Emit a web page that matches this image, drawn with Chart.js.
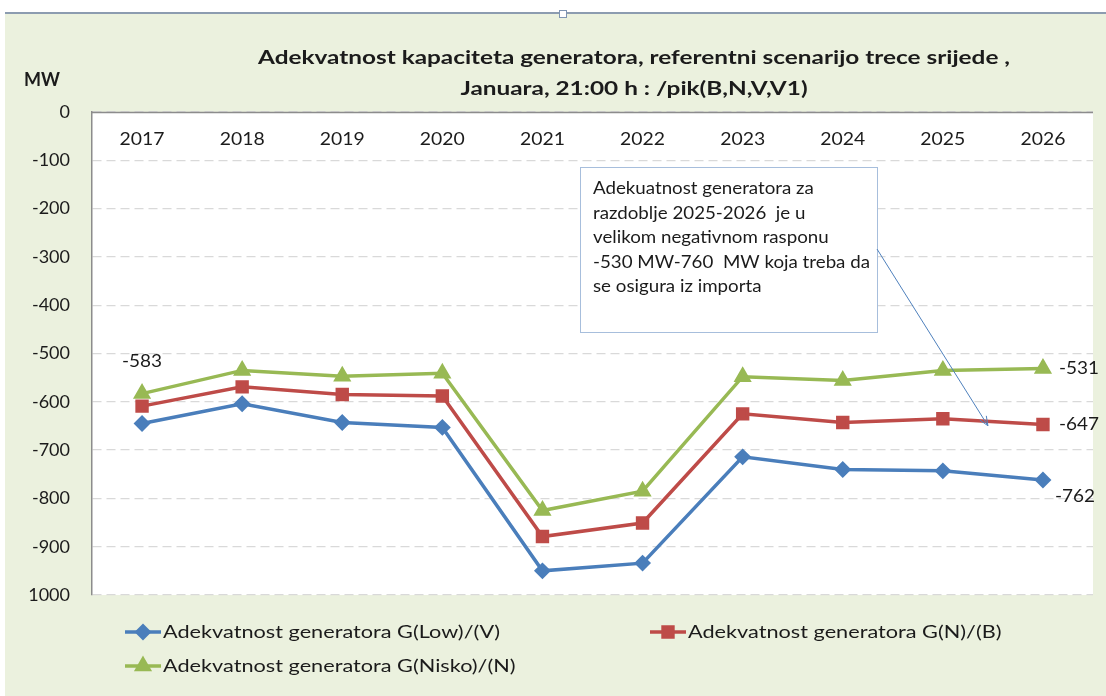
<!DOCTYPE html>
<html>
<head>
<meta charset="utf-8">
<script src="https://cdn.jsdelivr.net/npm/chart.js@4.4.1/dist/chart.umd.min.js"></script>
<style>
  html, body { margin: 0; padding: 0; background: #fff; }
  #wrap { width: 1106px; height: 696px; position: relative; }
</style>
</head>
<body>
<div id="wrap"><canvas id="adeqChart" width="1106" height="696"></canvas></div>
<script>
const years = ['2017', '2018', '2019', '2020', '2021', '2022', '2023', '2024', '2025', '2026'];
const lowV = [-645, -604, -643, -653, -950, -934, -714, -740, -743, -762];
const normalB = [-609, -569, -585, -588, -879, -851, -625, -643, -635, -647];
const niskoN = [-583, -535, -547, -541, -825, -785, -548, -556, -535, -531];
const yTickLabels = ['0', '-100', '-200', '-300', '-400', '-500', '-600', '-700', '-800', '-900', '1000'];

const seriesNames = [
    'Adekvatnost generatora G(Low)/(V)',
    'Adekvatnost generatora G(N)/(B)',
    'Adekvatnost generatora G(Nisko)/(N)'
];
const titleLines = [
    'Adekvatnost kapaciteta generatora, referentni scenarijo trece srijede ,',
    'Januara, 21:00 h : /pik(B,N,V,V1)'
];
const noteLines = [
    'Adekuatnost generatora za',
    'razdoblje 2025-2026  je u',
    'velikom negativnom rasponu',
    '-530 MW-760  MW koja treba da',
    'se osigura iz importa'
];

const FONT = 'Lato, "Open Sans", sans-serif';
const TEXT = '#1b1b1b';

// the source picture is stretched sideways, so text gets a horizontal scale
function wideText(c, txt, x, y, sx, align) {
    c.save();
    c.translate(x, y);
    c.scale(sx, 1);
    c.textAlign = align || 'left';
    c.fillText(txt, 0, 0);
    c.restore();
}
function stretchFor(c, sample, width) {
    return width / c.measureText(sample).width;
}

// background, title, x labels, value labels, note box and legend
const decor = {
    id: 'decor',
    beforeDraw(chart) {
        const c = chart.ctx;
        const a = chart.chartArea;
        c.save();
        c.fillStyle = '#ffffff';
        c.fillRect(0, 0, chart.width, chart.height);
        c.fillStyle = '#EBF1DE';
        c.fillRect(5, 13, chart.width - 5, chart.height - 13);
        c.strokeStyle = '#8C9CB0';
        c.lineWidth = 2;
        c.beginPath(); c.moveTo(5, 13); c.lineTo(chart.width, 13); c.stroke();
        c.fillStyle = '#fff';
        c.strokeStyle = '#7F95B3';
        c.lineWidth = 1;
        c.fillRect(559.5, 10.5, 7, 7);
        c.strokeRect(559.5, 10.5, 7, 7);
        c.fillStyle = '#ffffff';
        c.fillRect(a.left, a.top, a.right - a.left, a.bottom - a.top);
        c.restore();
    },
    afterDatasetsDraw(chart) {
        const c = chart.ctx;
        const a = chart.chartArea;
        const x = chart.scales.x;
        c.save();
        // top axis line at 0
        c.strokeStyle = '#8C8C8C';
        c.lineWidth = 1.5;
        c.beginPath(); c.moveTo(a.left, a.top + 0.5); c.lineTo(a.right, a.top + 0.5); c.stroke();

        // title
        c.fillStyle = TEXT;
        c.textBaseline = 'middle';
        c.font = 'bold 19px ' + FONT;
        let sx = stretchFor(c, titleLines[0], 752);
        wideText(c, titleLines[0], 634, 58, sx, 'center');
        wideText(c, titleLines[1], 634, 89, sx, 'center');
        wideText(c, 'MW', 24, 80, stretchFor(c, 'MW', 36), 'left');

        // category labels under the 0 line
        c.font = '17px ' + FONT;
        sx = stretchFor(c, '2017', 45);
        years.forEach((yr, i) => wideText(c, yr, x.getPixelForValue(i), 140, sx, 'center'));

        // value labels at first / last points
        c.font = '18px ' + FONT;
        sx = stretchFor(c, '-583', 40);
        const g = chart.getDatasetMeta(2).data;
        const r = chart.getDatasetMeta(1).data;
        const b = chart.getDatasetMeta(0).data;
        const last = years.length - 1;
        wideText(c, String(niskoN[0]), g[0].x - 20, g[0].y - 32, sx);
        wideText(c, String(niskoN[last]), g[last].x + 16, g[last].y, sx);
        wideText(c, String(normalB[last]), r[last].x + 16, r[last].y, sx);
        wideText(c, String(lowV[last]), b[last].x + 12, b[last].y + 16, sx);

        // note box
        c.fillStyle = '#ffffff';
        c.fillRect(580, 167, 297, 165);
        c.strokeStyle = '#A7BEDC';
        c.lineWidth = 1;
        c.strokeRect(580.5, 167.5, 297, 165);
        c.fillStyle = TEXT;
        c.font = '17px ' + FONT;
        sx = Math.min(stretchFor(c, noteLines[0], 235), stretchFor(c, noteLines[3], 277));
        noteLines.forEach((ln, i) => wideText(c, ln, 593, 189 + i * 24.5, sx));

        // arrow
        const ax0 = 877, ay0 = 249;
        const ax1 = (r[8].x + r[9].x) / 2 - 5, ay1 = r[8].y + 7;
        c.strokeStyle = '#4F81BD';
        c.lineWidth = 1;
        c.beginPath(); c.moveTo(ax0, ay0); c.lineTo(ax1, ay1); c.stroke();
        const ang = Math.atan2(ay1 - ay0, ax1 - ax0);
        c.beginPath();
        c.moveTo(ax1 - 10 * Math.cos(ang - 0.4), ay1 - 10 * Math.sin(ang - 0.4));
        c.lineTo(ax1, ay1);
        c.lineTo(ax1 - 10 * Math.cos(ang + 0.4), ay1 - 10 * Math.sin(ang + 0.4));
        c.stroke();

        // legend
        const spots = [[125, 632], [650, 632], [125, 666]];
        c.font = '18px ' + FONT;
        sx = stretchFor(c, seriesNames[0], 337);
        chart.data.datasets.forEach((ds, i) => {
            const [lx, ly] = spots[i];
            c.strokeStyle = ds.borderColor;
            c.lineWidth = 3.5;
            c.beginPath(); c.moveTo(lx, ly); c.lineTo(lx + 36, ly); c.stroke();
            Chart.helpers.drawPoint(c, {
                pointStyle: ds.pointStyle, radius: ds.pointRadius, rotation: 0,
                borderWidth: 1
            }, lx + 18, ly);
            c.fillStyle = ds.borderColor;
            c.fill();
            c.fillStyle = TEXT;
            wideText(c, ds.label, lx + 38, ly, sx);
        });
        c.restore();
    }
};

const ctx = document.getElementById('adeqChart').getContext('2d');
const adeqChart = new Chart(ctx, {
    type: 'line',
    data: {
        labels: years,
        datasets: [{
            label: seriesNames[0],
            data: lowV,
            borderColor: '#4A7EBB',
            backgroundColor: '#4A7EBB',
            pointStyle: 'rectRot',
            pointRadius: 6,
            borderWidth: 3.5
        }, {
            label: seriesNames[1],
            data: normalB,
            borderColor: '#BE4B48',
            backgroundColor: '#BE4B48',
            pointStyle: 'rect',
            pointRadius: 7,
            borderWidth: 3.5
        }, {
            label: seriesNames[2],
            data: niskoN,
            borderColor: '#98B954',
            backgroundColor: '#98B954',
            pointStyle: 'triangle',
            pointRadius: 7,
            borderWidth: 3.5
        }]
    },
    options: {
        responsive: false,
        animation: false,
        layout: { padding: { left: 0, top: 112, right: 13, bottom: 101 } },
        plugins: {
            legend: { display: false },
            title: { display: false },
            tooltip: { enabled: false }
        },
        scales: {
            x: {
                display: false,
                offset: true
            },
            y: {
                min: -1000,
                max: 0,
                afterFit(scale) { scale.width = 92; },
                grid: {
                    color: '#D9D9D9',
                    lineWidth: 1.2,
                    drawTicks: false
                },
                border: {
                    color: '#8C8C8C',
                    width: 1.5,
                    dash: [9, 5]
                },
                ticks: {
                    stepSize: 100,
                    padding: 22,
                    color: TEXT,
                    font: { family: FONT, size: 18 },
                    callback: (v) => yTickLabels[Math.round(-v / 100)]
                }
            }
        }
    },
    plugins: [decor]
});
</script>
</body>
</html>
